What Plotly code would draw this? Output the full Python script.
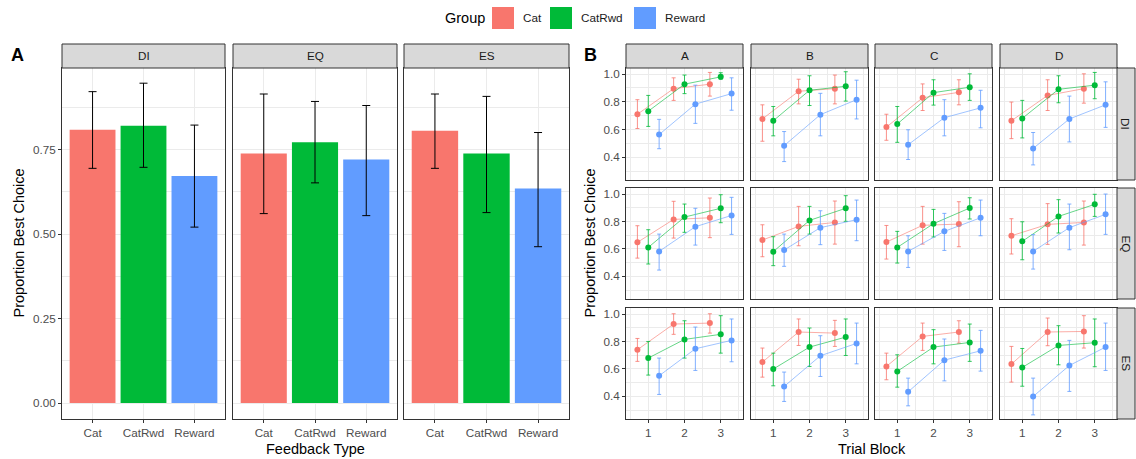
import plotly.graph_objects as go

# ---------------- DATA ----------------
groups = ["Cat", "CatRwd", "Reward"]
conditions = ["DI", "EQ", "ES"]
stimuli = ["A", "B", "C", "D"]
blocks = [1, 2, 3]
group_colors = ["#F8766D", "#00BA38", "#619CFF"]

# Panel A: mean proportion best choice by feedback type (per condition)
bar_mean_DI = [0.809, 0.821, 0.672]
bar_hi_DI = [0.922, 0.947, 0.823]
bar_lo_DI = [0.695, 0.698, 0.521]
bar_mean_EQ = [0.739, 0.772, 0.721]
bar_hi_EQ = [0.915, 0.893, 0.881]
bar_lo_EQ = [0.561, 0.652, 0.555]
bar_mean_ES = [0.806, 0.739, 0.635]
bar_hi_ES = [0.915, 0.908, 0.801]
bar_lo_ES = [0.695, 0.564, 0.463]

# Panel B: [condition row][stimulus column][trial block]
cat_mean = [
    [[0.710, 0.895, 0.927], [0.676, 0.876, 0.895], [0.617, 0.829, 0.868], [0.663, 0.846, 0.895]],
    [[0.648, 0.815, 0.827], [0.665, 0.764, 0.793], [0.650, 0.772, 0.781], [0.696, 0.779, 0.793]],
    [[0.740, 0.927, 0.934], [0.650, 0.869, 0.861], [0.618, 0.837, 0.869], [0.635, 0.869, 0.873]],
]
cat_hi = [
    [[0.815, 0.973, 1.012], [0.778, 0.963, 0.993], [0.710, 0.929, 0.959], [0.798, 0.959, 1.002]],
    [[0.769, 0.947, 0.971], [0.776, 0.910, 0.949], [0.771, 0.910, 0.944], [0.820, 0.930, 0.949]],
    [[0.822, 1.002, 1.002], [0.752, 0.964, 0.954], [0.715, 0.934, 0.951], [0.764, 0.971, 0.988]],
]
cat_lo = [
    [[0.607, 0.810, 0.841], [0.515, 0.785, 0.785], [0.522, 0.737, 0.778], [0.534, 0.737, 0.790]],
    [[0.533, 0.679, 0.682], [0.543, 0.623, 0.635], [0.526, 0.635, 0.616], [0.563, 0.633, 0.628]],
    [[0.655, 0.852, 0.861], [0.540, 0.771, 0.764], [0.521, 0.735, 0.788], [0.504, 0.769, 0.752]],
]
catrwd_mean = [
    [[0.732, 0.927, 0.980], [0.663, 0.883, 0.912], [0.639, 0.866, 0.905], [0.680, 0.890, 0.920]],
    [[0.611, 0.832, 0.896], [0.580, 0.808, 0.896], [0.611, 0.784, 0.898], [0.655, 0.837, 0.925]],
    [[0.679, 0.815, 0.852], [0.599, 0.759, 0.832], [0.582, 0.759, 0.793], [0.611, 0.771, 0.791]],
]
catrwd_hi = [
    [[0.846, 0.993, 1.010], [0.766, 0.988, 1.017], [0.766, 0.959, 1.002], [0.810, 0.988, 1.012]],
    [[0.740, 0.927, 0.995], [0.689, 0.910, 0.988], [0.728, 0.888, 0.973], [0.798, 0.959, 0.998]],
    [[0.800, 0.951, 0.988], [0.715, 0.898, 0.964], [0.703, 0.886, 0.927], [0.749, 0.915, 0.964]],
]
catrwd_lo = [
    [[0.622, 0.859, 0.963], [0.554, 0.773, 0.805], [0.507, 0.776, 0.810], [0.539, 0.793, 0.822]],
    [[0.490, 0.721, 0.791], [0.478, 0.708, 0.801], [0.497, 0.687, 0.818], [0.521, 0.716, 0.837]],
    [[0.555, 0.679, 0.715], [0.477, 0.618, 0.698], [0.467, 0.637, 0.655], [0.474, 0.630, 0.616]],
]
reward_mean = [
    [[0.563, 0.783, 0.859], [0.483, 0.707, 0.815], [0.490, 0.685, 0.756], [0.463, 0.676, 0.778]],
    [[0.582, 0.762, 0.844], [0.592, 0.755, 0.813], [0.582, 0.728, 0.827], [0.582, 0.755, 0.852]],
    [[0.550, 0.747, 0.808], [0.472, 0.696, 0.786], [0.433, 0.664, 0.732], [0.399, 0.625, 0.759]],
]
reward_hi = [
    [[0.673, 0.920, 0.973], [0.585, 0.861, 0.956], [0.598, 0.815, 0.883], [0.578, 0.841, 0.944]],
    [[0.708, 0.896, 0.976], [0.708, 0.878, 0.956], [0.696, 0.859, 0.956], [0.704, 0.927, 1.000]],
    [[0.679, 0.905, 0.964], [0.577, 0.842, 0.934], [0.533, 0.818, 0.881], [0.533, 0.808, 0.934]],
]
reward_lo = [
    [[0.461, 0.644, 0.739], [0.368, 0.554, 0.676], [0.383, 0.554, 0.612], [0.344, 0.510, 0.615]],
    [[0.446, 0.628, 0.706], [0.473, 0.631, 0.660], [0.465, 0.589, 0.696], [0.453, 0.594, 0.706]],
    [[0.414, 0.589, 0.652], [0.363, 0.545, 0.637], [0.331, 0.513, 0.584], [0.265, 0.436, 0.589]],
]

# ---------------- LAYOUT HELPERS ----------------
W, H = 1136, 459
FONT = "Liberation Sans, Arial, sans-serif"
GRID = "#EBEBEB"
BORDER = "#333333"
TICKC = "#4D4D4D"


def fx(p):
    return p / W


def fy(p):
    return 1 - p / H


def rgba(hexc, a):
    h = hexc.lstrip("#")
    return "rgba(%d,%d,%d,%.2f)" % (int(h[0:2], 16), int(h[2:4], 16), int(h[4:6], 16), a)


fig = go.Figure()
layout = dict(
    width=W, height=H, margin=dict(l=0, r=0, t=0, b=0),
    paper_bgcolor="white", plot_bgcolor="white", showlegend=False,
    font=dict(family=FONT, color=TICKC, size=12),
)
shapes = []
annotations = []

# Panel A geometry
A_cols = [(62, 225), (233, 397), (404, 569)]
A_top, A_bot = 68, 419
STRIP_TOP = 44

bar_data = {
    "DI": (bar_mean_DI, bar_hi_DI, bar_lo_DI),
    "EQ": (bar_mean_EQ, bar_hi_EQ, bar_lo_EQ),
    "ES": (bar_mean_ES, bar_hi_ES, bar_lo_ES),
}

for i, cond in enumerate(conditions):
    n = i + 1
    x0, x1 = A_cols[i]
    layout["xaxis%d" % n] = dict(
        domain=[fx(x0), fx(x1)], anchor="y%d" % n, type="category",
        categoryorder="array", categoryarray=groups, range=[-0.6, 2.6],
        showgrid=True, gridcolor=GRID, gridwidth=1, zeroline=False,
        showline=True, mirror=True, linecolor=BORDER, linewidth=1,
        ticks="outside", ticklen=3, tickcolor=BORDER,
        tickfont=dict(size=11.7, color=TICKC, family=FONT), fixedrange=True,
    )
    layout["yaxis%d" % n] = dict(
        domain=[fy(A_bot), fy(A_top)], anchor="x%d" % n, range=[-0.047, 0.992],
        tickmode="array", tickvals=[0, 0.25, 0.5, 0.75],
        ticktext=["0.00", "0.25", "0.50", "0.75"], showticklabels=(i == 0),
        ticks="outside" if i == 0 else "", ticklen=3, tickcolor=BORDER,
        showgrid=True, gridcolor=GRID, gridwidth=1, zeroline=False,
        minor=dict(tickmode="array", tickvals=[0.125, 0.375, 0.625, 0.875],
                   showgrid=True, gridcolor=GRID, gridwidth=0.5, ticks=""),
        showline=True, mirror=True, linecolor=BORDER, linewidth=1,
        tickfont=dict(size=11.7, color=TICKC, family=FONT), fixedrange=True,
    )
    m, hi, lo = bar_data[cond]
    fig.add_trace(go.Bar(
        x=groups, y=m, width=0.9, marker=dict(color=group_colors, line=dict(width=0)),
        error_y=dict(type="data", symmetric=False,
                     array=[h - v for h, v in zip(hi, m)],
                     arrayminus=[v - l for v, l in zip(m, lo)],
                     color="black", thickness=1, width=4),
        xaxis="x%d" % n, yaxis="y%d" % n,
    ))
    # strip
    shapes.append(dict(type="rect", xref="paper", yref="paper",
                       x0=fx(x0), x1=fx(x1), y0=fy(A_top), y1=fy(STRIP_TOP),
                       fillcolor="#D9D9D9", line=dict(color=BORDER, width=1), layer="above"))
    annotations.append(dict(text=cond, xref="paper", yref="paper",
                            x=fx((x0 + x1) / 2), y=fy((A_top + STRIP_TOP) / 2),
                            showarrow=False, xanchor="center", yanchor="middle",
                            font=dict(size=11.7, color="#1A1A1A", family=FONT)))

# Panel B geometry
B_cols = [(626, 743), (751, 868), (875, 992), (1000, 1117)]
B_rows = [(68, 180), (188, 299), (308, 419)]
RSTRIP = (1117, 1135)

group_data = [
    (cat_mean, cat_hi, cat_lo, -0.3),
    (catrwd_mean, catrwd_hi, catrwd_lo, 0.0),
    (reward_mean, reward_hi, reward_lo, 0.3),
]

for r in range(3):
    for c in range(4):
        n = 4 + r * 4 + c
        x0, x1 = B_cols[c]
        y0, y1 = B_rows[r]
        layout["xaxis%d" % n] = dict(
            domain=[fx(x0), fx(x1)], anchor="y%d" % n, range=[0.385, 3.615],
            tickmode="array", tickvals=[1, 2, 3], ticktext=["1", "2", "3"],
            showticklabels=(r == 2), ticks="outside" if r == 2 else "",
            ticklen=3, tickcolor=BORDER,
            showgrid=True, gridcolor=GRID, gridwidth=1, zeroline=False,
            minor=dict(tickmode="array", tickvals=[0.5, 1.5, 2.5, 3.5],
                       showgrid=True, gridcolor=GRID, gridwidth=0.5, ticks=""),
            showline=True, mirror=True, linecolor=BORDER, linewidth=1,
            tickfont=dict(size=11.7, color=TICKC, family=FONT), fixedrange=True,
        )
        layout["yaxis%d" % n] = dict(
            domain=[fy(y1), fy(y0)], anchor="x%d" % n, range=[0.235, 1.044],
            tickmode="array", tickvals=[0.4, 0.6, 0.8, 1.0],
            ticktext=["0.4", "0.6", "0.8", "1.0"], showticklabels=(c == 0),
            ticks="outside" if c == 0 else "", ticklen=3, tickcolor=BORDER,
            showgrid=True, gridcolor=GRID, gridwidth=1, zeroline=False,
            minor=dict(tickmode="array", tickvals=[0.3, 0.5, 0.7, 0.9],
                       showgrid=True, gridcolor=GRID, gridwidth=0.5, ticks=""),
            showline=True, mirror=True, linecolor=BORDER, linewidth=1,
            tickfont=dict(size=11.7, color=TICKC, family=FONT), fixedrange=True,
        )
        for g, (mean, hi, lo, off) in enumerate(group_data):
            xs = [b + off for b in blocks]
            m = mean[r][c]
            fig.add_trace(go.Scatter(
                x=xs, y=m, mode="lines",
                line=dict(color=rgba(group_colors[g], 0.6), width=1),
                xaxis="x%d" % n, yaxis="y%d" % n, hoverinfo="skip",
            ))
            fig.add_trace(go.Scatter(
                x=xs, y=m, mode="markers",
                marker=dict(color=group_colors[g], size=6, line=dict(width=0)),
                error_y=dict(type="data", symmetric=False,
                             array=[h - v for h, v in zip(hi[r][c], m)],
                             arrayminus=[v - l for v, l in zip(m, lo[r][c])],
                             color=rgba(group_colors[g], 0.8), thickness=1, width=2),
                xaxis="x%d" % n, yaxis="y%d" % n,
            ))

# top strips panel B
for c, stim in enumerate(stimuli):
    x0, x1 = B_cols[c]
    shapes.append(dict(type="rect", xref="paper", yref="paper",
                       x0=fx(x0), x1=fx(x1), y0=fy(B_rows[0][0]), y1=fy(STRIP_TOP),
                       fillcolor="#D9D9D9", line=dict(color=BORDER, width=1), layer="above"))
    annotations.append(dict(text=stim, xref="paper", yref="paper",
                            x=fx((x0 + x1) / 2), y=fy((B_rows[0][0] + STRIP_TOP) / 2),
                            showarrow=False, xanchor="center", yanchor="middle",
                            font=dict(size=11.7, color="#1A1A1A", family=FONT)))
# right strips panel B
for r, cond in enumerate(conditions):
    y0, y1 = B_rows[r]
    shapes.append(dict(type="rect", xref="paper", yref="paper",
                       x0=fx(RSTRIP[0]), x1=fx(RSTRIP[1]), y0=fy(y1), y1=fy(y0),
                       fillcolor="#D9D9D9", line=dict(color=BORDER, width=1), layer="above"))
    annotations.append(dict(text=cond, xref="paper", yref="paper",
                            x=fx((RSTRIP[0] + RSTRIP[1]) / 2), y=fy((y0 + y1) / 2),
                            showarrow=False, xanchor="center", yanchor="middle", textangle=90,
                            font=dict(size=11.7, color="#1A1A1A", family=FONT)))

# axis titles
title_font = dict(size=14.5, color="black", family=FONT)
annotations += [
    dict(text="Proportion Best Choice", xref="paper", yref="paper", x=fx(19), y=fy(243.5),
         textangle=-90, showarrow=False, xanchor="center", yanchor="middle", font=title_font),
    dict(text="Feedback Type", xref="paper", yref="paper", x=fx((62 + 569) / 2), y=fy(449),
         showarrow=False, xanchor="center", yanchor="middle", font=title_font),
    dict(text="Proportion Best Choice", xref="paper", yref="paper", x=fx(590), y=fy(243.5),
         textangle=-90, showarrow=False, xanchor="center", yanchor="middle", font=title_font),
    dict(text="Trial Block", xref="paper", yref="paper", x=fx((626 + 1117) / 2), y=fy(449),
         showarrow=False, xanchor="center", yanchor="middle", font=title_font),
    dict(text="<b>A</b>", xref="paper", yref="paper", x=fx(17), y=fy(55),
         showarrow=False, xanchor="center", yanchor="middle",
         font=dict(size=18, color="black", family=FONT)),
    dict(text="<b>B</b>", xref="paper", yref="paper", x=fx(590), y=fy(55),
         showarrow=False, xanchor="center", yanchor="middle",
         font=dict(size=18, color="black", family=FONT)),
]

# legend (manual)
annotations.append(dict(text="Group", xref="paper", yref="paper", x=fx(443), y=fy(18),
                        showarrow=False, xanchor="left", yanchor="middle", font=title_font))
leg_key_x = [492, 550, 634]
for g, name in enumerate(groups):
    kx = leg_key_x[g]
    shapes.append(dict(type="rect", xref="paper", yref="paper",
                       x0=fx(kx), x1=fx(kx + 22), y0=fy(29), y1=fy(7),
                       fillcolor=group_colors[g], line=dict(width=0)))
    annotations.append(dict(text=name, xref="paper", yref="paper", x=fx(kx + 29), y=fy(18),
                            showarrow=False, xanchor="left", yanchor="middle",
                            font=dict(size=11.7, color="#1A1A1A", family=FONT)))

layout["shapes"] = shapes
layout["annotations"] = annotations
fig.update_layout(**layout)
fig.write_html("out.html")
